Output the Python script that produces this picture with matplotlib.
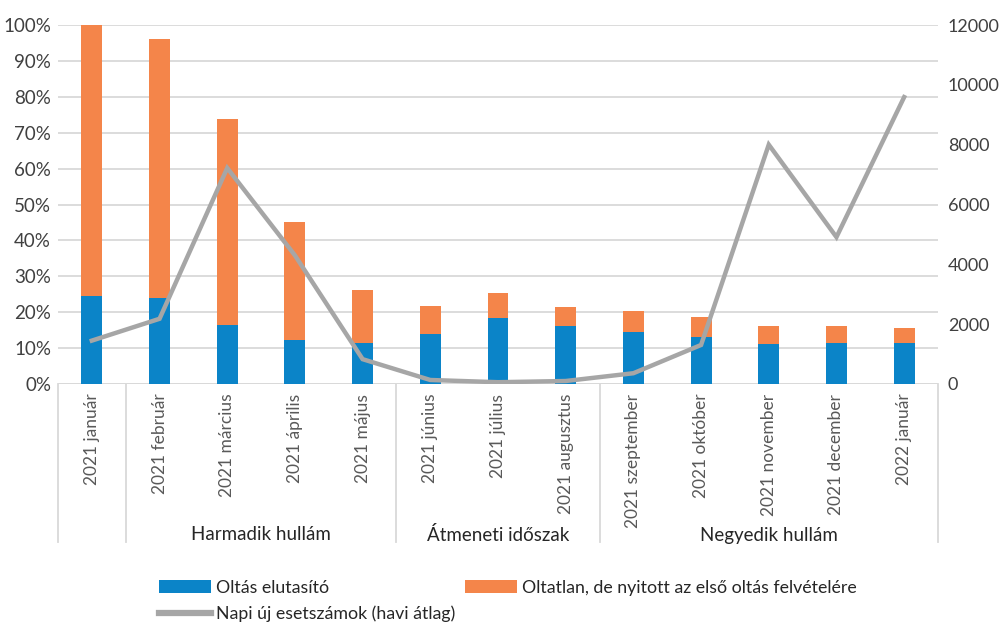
import matplotlib
matplotlib.use("Agg")
import matplotlib.pyplot as plt
import matplotlib.transforms as mtransforms
from matplotlib.lines import Line2D
from matplotlib.patches import Patch
import numpy as np

plt.rcParams['font.family'] = ['Lato', 'DejaVu Sans']

months = ["2021 január", "2021 február", "2021 március", "2021 április", "2021 május",
          "2021 június", "2021 július", "2021 augusztus", "2021 szeptember",
          "2021 október", "2021 november", "2021 december", "2022 január"]
refusers = [24.4, 23.9, 16.3, 12.3, 11.3, 13.9, 18.3, 16.1, 14.5, 13.1, 11.2, 11.5, 11.4]
bar_totals = [100.0, 96.0, 73.7, 45.2, 26.1, 21.8, 25.4, 21.5, 20.2, 18.7, 16.2, 16.2, 15.7]
open_to_vaccine = [t - r for t, r in zip(bar_totals, refusers)]
daily_cases = [1450, 2180, 7220, 4300, 830, 134, 60, 100, 360, 1305, 8000, 4910, 9590]

groups = [("", 0, 0), ("Harmadik hullám", 1, 4), ("Átmeneti időszak", 5, 7),
          ("Negyedik hullám", 8, 12)]

c_blue = "#0B84C8"
c_orange = "#F4854A"
c_gray = "#A6A6A6"
c_grid = "#D9D9D9"
c_text = "#404040"
c_cat = "#595959"

fig = plt.figure(figsize=(10.04, 6.23), dpi=100)
ax = fig.add_axes([58 / 1004, 1 - 384 / 623, 880 / 1004, 359 / 623])
ax2 = ax.twinx()

x = np.arange(len(months))
ax.bar(x, refusers, width=0.31, color=c_blue, zorder=2)
ax.bar(x, open_to_vaccine, width=0.31, bottom=refusers, color=c_orange, zorder=2)

ax2.plot(x, daily_cases, color=c_gray, lw=3.2, solid_joinstyle="miter", zorder=3)

ax.set_xlim(-0.5, len(months) - 0.5)
ax.set_ylim(0, 100)
ax2.set_ylim(0, 12000)
ax.set_yticks(np.arange(0, 101, 10))
ax.set_yticklabels([f"{v}%" for v in range(0, 101, 10)])
ax2.set_yticks(np.arange(0, 12001, 2000))
ax2.set_yticklabels([str(v) for v in range(0, 12001, 2000)])

ax.grid(axis="y", color=c_grid, lw=1.3, zorder=0)
ax.set_axisbelow(True)
for a in (ax, ax2):
    for s in a.spines.values():
        s.set_visible(False)
    a.tick_params(axis="both", length=0, labelsize=13.5, labelcolor=c_text)
ax.tick_params(axis="y", pad=5)
ax2.tick_params(axis="y", pad=7, labelsize=13)
ax.patch.set_visible(False)

# x axis: rotated month labels
ax.set_xticks(x)
ax.set_xticklabels(months, rotation=90, fontsize=12.5, color=c_cat)
ax.tick_params(axis="x", pad=7)
ax.axhline(0, color=c_grid, lw=1.3, zorder=1)

# group separators and labels below the axis
trans = mtransforms.blended_transform_factory(ax.transData, ax.transAxes)
bottom_y = (384 - 542) / 359
for b in [-0.5, 0.5, 4.5, 7.5, 12.5]:
    ax.add_line(Line2D([b, b], [0, bottom_y], transform=trans, color=c_grid,
                       lw=1.3, clip_on=False))
for name, i0, i1 in groups:
    if name:
        ax.text((i0 + i1) / 2, (384 - 535) / 359, name, transform=trans,
                ha="center", va="center", fontsize=13.5, color="#262626")

handles = [Patch(facecolor=c_blue), Line2D([], [], color=c_gray, lw=4.5),
           Patch(facecolor=c_orange)]
labels = ["Oltás elutasító", "Napi új esetszámok (havi átlag)",
          "Oltatlan, de nyitott az első oltás felvételére"]
fig.legend(handles, labels, ncol=2, loc="upper left", bbox_to_anchor=(152 / 1004, 1 - 573 / 623),
           frameon=False, fontsize=12.8, handlelength=2.9, handleheight=0.75,
           handletextpad=0.3, columnspacing=0.55, labelspacing=0.55,
           labelcolor="#262626", borderaxespad=0)

fig.savefig("out.png", dpi=100)
